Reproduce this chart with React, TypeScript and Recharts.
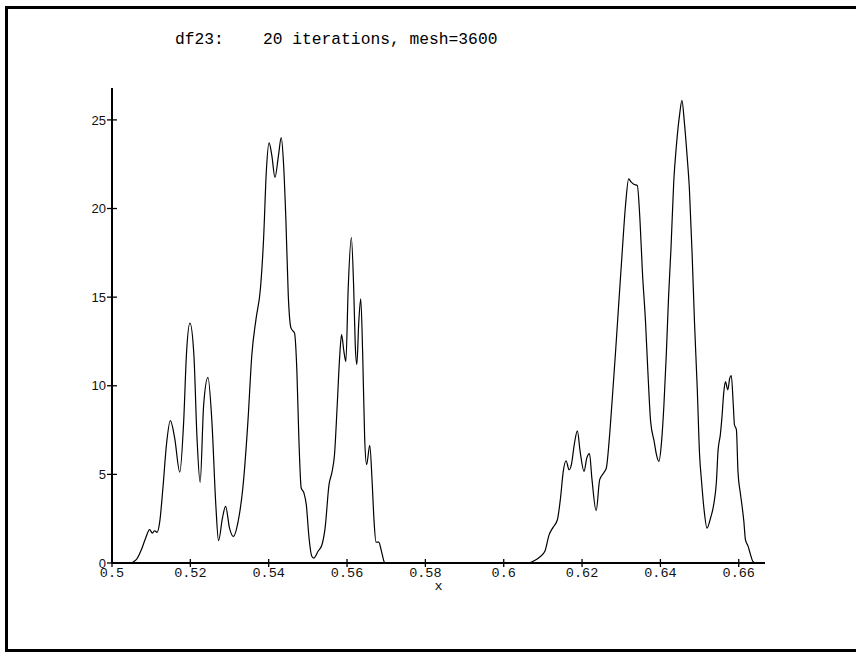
import React from 'react';
import { LineChart, Line, XAxis, YAxis } from 'recharts';

const titleText = 'df23:    20 iterations, mesh=3600';
const xAxisLabel = 'x';

const xValues = [
  0.5, 0.5045, 0.5062, 0.5075, 0.5086, 0.5096, 0.5103, 0.5109, 0.5115, 0.5122,
  0.513, 0.5139, 0.5149, 0.516, 0.5173, 0.5183, 0.519, 0.5199, 0.5209, 0.5217,
  0.5225, 0.5234, 0.5245, 0.5255, 0.5265, 0.5272, 0.5282, 0.529, 0.53, 0.531,
  0.5322, 0.5334, 0.5347, 0.5357, 0.5368, 0.5379, 0.5387, 0.5394, 0.5401, 0.5408,
  0.5416, 0.5425, 0.5432, 0.5438, 0.5444, 0.545, 0.5457, 0.5466, 0.5472, 0.5477,
  0.5483, 0.549, 0.5496, 0.5503, 0.551, 0.5515, 0.5526, 0.5536, 0.5544, 0.5554,
  0.5562, 0.5568, 0.5575, 0.5581, 0.5586, 0.5592, 0.5597, 0.5603, 0.5611, 0.5617,
  0.5621, 0.5625, 0.563, 0.5635, 0.564, 0.5645, 0.565, 0.5658, 0.5664, 0.5669,
  0.5674, 0.5681, 0.5688, 0.5695, 0.5698, 0.6062, 0.608, 0.6092, 0.6105, 0.6116,
  0.6126, 0.6137, 0.6145, 0.6152, 0.6159, 0.6167, 0.6173, 0.618, 0.6188, 0.6195,
  0.6205, 0.6212, 0.6219, 0.6225, 0.6236, 0.6245, 0.6255, 0.6262, 0.6269, 0.6276,
  0.6285, 0.6294, 0.6302, 0.6311, 0.6319, 0.6325, 0.6332, 0.6341, 0.6348, 0.6354,
  0.6362, 0.6368, 0.6375, 0.6384, 0.639, 0.6396, 0.6403, 0.6409, 0.6415, 0.6421,
  0.6427, 0.6434, 0.6441, 0.6449, 0.6455, 0.6461, 0.6468, 0.6474, 0.6481, 0.6487,
  0.6494, 0.65, 0.6505, 0.6511, 0.6519, 0.6528, 0.6536, 0.6543, 0.6547, 0.6553,
  0.6557, 0.6562, 0.6566, 0.6572, 0.6577, 0.6581, 0.6586, 0.6589, 0.6594, 0.6598,
  0.6604, 0.6608, 0.6613, 0.6617, 0.6624, 0.663, 0.6636, 0.6643, 0.6667,
];

const densityValues = [
  0, 0, 0.19, 0.75, 1.41, 1.88, 1.69, 1.82, 1.73, 2.35,
  4.23, 6.67, 8.03, 7.05, 5.13, 7.99, 11.75, 13.53, 11.75, 7.05,
  4.55, 8.93, 10.47, 7.99, 3.29, 1.26, 2.54, 3.2, 1.97, 1.5,
  2.35, 4.23, 7.99, 11.75, 13.82, 15.5, 18.3, 22.1, 23.7, 23.0,
  21.75, 23.0, 24.0, 22.5, 19.3, 15.1, 13.25, 12.97, 10.8, 7.05,
  4.23, 3.95, 3.29, 1.41, 0.38, 0.28, 0.66, 1.03, 1.97, 4.42,
  5.17, 6.11, 8.93, 11.56, 12.88, 11.94, 11.37, 15.5, 18.36, 15.5,
  12.3, 11.2, 13.6, 14.9, 11.75, 7.05, 5.55, 6.64, 4.61, 2.35,
  1.18, 1.18, 0.66, 0.06, 0, 0, 0.15, 0.34, 0.66, 1.6,
  2.01, 2.44, 3.67, 5.17, 5.77, 5.26, 5.58, 6.67, 7.46, 6.3,
  5.17, 5.92, 6.17, 4.79, 2.95, 4.7, 5.08, 5.36, 6.86, 8.93,
  11.75, 14.76, 17.39, 20.2, 21.67, 21.5, 21.37, 21.3, 19.27, 16.45,
  13.6, 10.8, 7.99, 6.86, 6.1, 5.73, 6.86, 8.93, 11.75, 15.1,
  17.76, 21.5, 23.6, 25.3, 26.1, 24.9, 23.0, 21.1, 17.4, 13.6,
  9.87, 6.11, 4.61, 3.1, 1.97, 2.54, 3.29, 4.6, 6.3, 7.24,
  8.2, 9.68, 10.24, 9.77, 10.43, 10.58, 8.93, 7.8, 7.52, 5.17,
  3.95, 3.29, 2.35, 1.32, 0.94, 0.47, 0.09, 0, 0,
];

const xTicks = [0.5, 0.52, 0.54, 0.56, 0.58, 0.6, 0.62, 0.64, 0.66];
const xTickLabels = ['0.5', '0.52', '0.54', '0.56', '0.58', '0.6', '0.62', '0.64', '0.66'];
const yTicks = [0, 5, 10, 15, 20, 25];
const yTickLabels = ['0', '5', '10', '15', '20', '25'];

const xDomain = [0.5, 0.6667];
const yDomain = [0, 26.8];

const data = xValues.map((x, i) => ({ x, y: densityValues[i] }));

const XTick = (props: any) => {
  const { x, y, payload } = props;
  const idx = xTicks.findIndex((t) => Math.abs(t - payload.value) < 1e-9);
  const label = idx >= 0 ? xTickLabels[idx] : String(payload.value);
  return (
    <g>
      <line x1={x} x2={x} y1={y - 4} y2={y + 4} stroke="#000" strokeWidth={1.3} />
      <text
        x={x}
        y={y + 14.3}
        textAnchor="middle"
        fontFamily="'Liberation Mono', monospace"
        fontSize={13.5}
        fill="#111"
      >
        {label}
      </text>
    </g>
  );
};

const YTick = (props: any) => {
  const { x, y, payload } = props;
  const idx = yTicks.findIndex((t) => Math.abs(t - payload.value) < 1e-9);
  const label = idx >= 0 ? yTickLabels[idx] : String(payload.value);
  return (
    <g>
      <line x1={x - 5} x2={x + 5} y1={y} y2={y} stroke="#000" strokeWidth={1.3} />
      <text
        x={x - 6}
        y={y}
        dy="0.36em"
        textAnchor="end"
        fontFamily="'Liberation Sans', Arial, sans-serif"
        fontSize={13}
        fill="#111"
      >
        {label}
      </text>
    </g>
  );
};

export default function App() {
  return (
    <div
      style={{
        position: 'absolute',
        left: 0,
        top: 0,
        width: 856,
        height: 652,
        overflow: 'hidden',
        background: '#fff',
      }}
    >
      <div
        style={{
          position: 'absolute',
          left: 5,
          top: 6,
          width: 900,
          height: 646,
          border: '3px solid #000',
          boxSizing: 'border-box',
        }}
      />
      <svg
        width={856}
        height={652}
        style={{ position: 'absolute', left: 0, top: 0 }}
      >
        <text
          x={175}
          y={44}
          fontFamily="'Liberation Mono', monospace"
          fontSize={16.3}
          fill="#000"
          style={{ whiteSpace: 'pre' }}
        >
          {titleText}
        </text>
        <text
          x={438.5}
          y={590}
          textAnchor="middle"
          fontFamily="'Liberation Mono', monospace"
          fontSize={13.5}
          fill="#111"
        >
          {xAxisLabel}
        </text>
      </svg>
      <div style={{ position: 'absolute', left: 0, top: 0 }}>
        <LineChart
          width={856}
          height={652}
          data={data}
          margin={{ top: 88, left: 111, right: 91, bottom: 88 }}
        >
          <XAxis
            dataKey="x"
            type="number"
            domain={xDomain}
            allowDataOverflow
            ticks={xTicks}
            interval={0}
            height={1}
            tickSize={0}
            tickMargin={0}
            tickLine={false}
            axisLine={{ stroke: '#000', strokeWidth: 2 }}
            tick={<XTick />}
          />
          <YAxis
            type="number"
            domain={yDomain}
            allowDataOverflow
            ticks={yTicks}
            interval={0}
            width={1}
            tickSize={0}
            tickMargin={0}
            tickLine={false}
            axisLine={{ stroke: '#000', strokeWidth: 2 }}
            tick={<YTick />}
          />
          <Line
            dataKey="y"
            type="monotone"
            stroke="#000"
            strokeWidth={1.2}
            dot={false}
            activeDot={false}
            isAnimationActive={false}
          />
        </LineChart>
      </div>
    </div>
  );
}
